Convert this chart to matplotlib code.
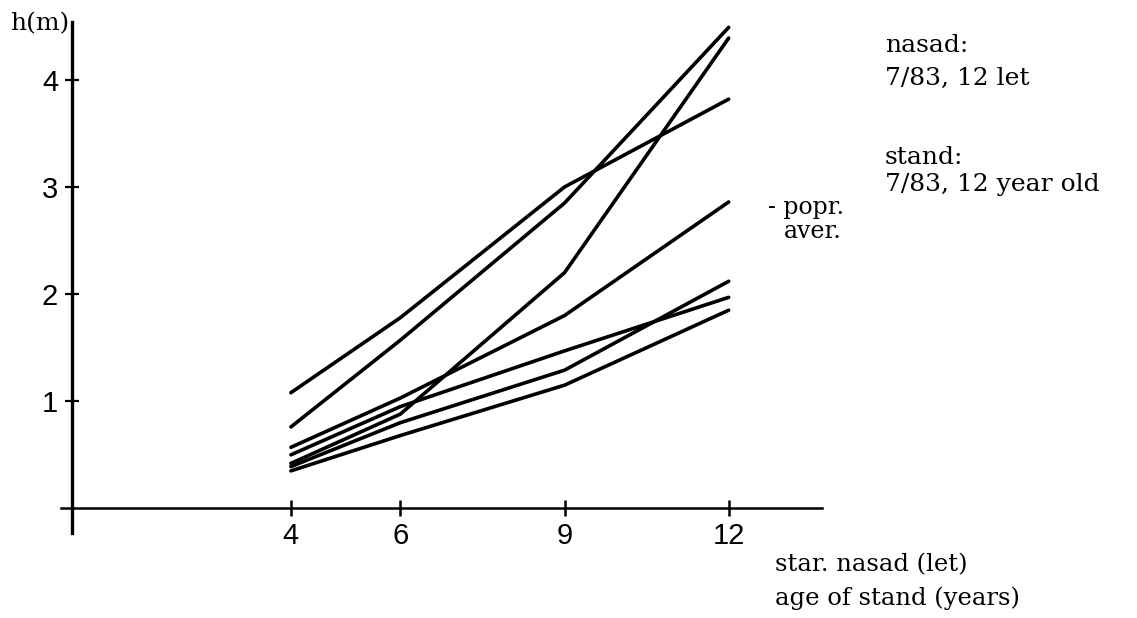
import matplotlib
matplotlib.use("Agg")
import matplotlib.pyplot as plt


# stand age (years) at each measurement
ages = [4, 6, 9, 12]

# tree heights h (m) for the individual trees
heights_a = [1.08, 1.78, 3.00, 3.82]
heights_b = [0.76, 1.57, 2.85, 4.49]
heights_c = [0.42, 0.88, 2.20, 4.39]
heights_avg = [0.57, 1.03, 1.80, 2.86]
heights_e = [0.50, 0.95, 1.47, 1.97]
heights_f = [0.39, 0.80, 1.29, 2.12]
heights_g = [0.35, 0.68, 1.15, 1.85]

x_ticks = [4, 6, 9, 12]
y_ticks = [1, 2, 3, 4]

TICK_FONT = "Liberation Sans"
TEXT_FONT = "DejaVu Serif"


def main():
    fig = plt.figure(figsize=(11.37, 6.18), dpi=100)
    ax = fig.add_axes([0.0537, 0.1375, 0.669, 0.8269])

    all_series = [heights_a, heights_b, heights_c, heights_avg,
                  heights_e, heights_f, heights_g]
    for h in all_series:
        ax.plot(ages, h, color="black", linewidth=2.6,
                solid_capstyle="round", solid_joinstyle="round")

    ax.set_xlim(-0.2, 13.7)
    ax.set_ylim(-0.23, 4.54)

    ax.spines["top"].set_visible(False)
    ax.spines["right"].set_visible(False)
    ax.spines["left"].set_position(("data", 0))
    ax.spines["bottom"].set_position(("data", 0))
    ax.spines["left"].set_linewidth(2.4)
    ax.spines["bottom"].set_linewidth(1.8)

    ax.set_xticks(x_ticks)
    ax.set_yticks(y_ticks)
    ax.set_xticklabels([str(v) for v in x_ticks], family=TICK_FONT, fontsize=21)
    ax.set_yticklabels([str(v) for v in y_ticks], family=TICK_FONT, fontsize=21)
    ax.tick_params(axis="x", direction="inout", length=12, width=1.8, pad=4)
    ax.tick_params(axis="y", direction="inout", length=10, width=1.6, pad=5)

    # axis captions
    fig.text(10 / 1137, 1 - 24 / 618, "h(m)", family=TEXT_FONT,
             fontsize=18, va="center", ha="left")
    fig.text(775 / 1137, 1 - 565 / 618, "star. nasad (let)", family=TEXT_FONT,
             fontsize=17.5, va="center", ha="left")
    fig.text(775 / 1137, 1 - 598 / 618, "age of stand (years)", family=TEXT_FONT,
             fontsize=17.5, va="center", ha="left")

    # label for the average line
    fig.text(768 / 1137, 1 - 207 / 618, "- popr.", family=TEXT_FONT,
             fontsize=17, va="center", ha="left")
    fig.text(784 / 1137, 1 - 232 / 618, "aver.", family=TEXT_FONT,
             fontsize=17, va="center", ha="left")

    # stand info
    info = [("nasad:", 45), ("7/83, 12 let", 78),
            ("stand:", 157), ("7/83, 12 year old", 185)]
    for txt, y in info:
        fig.text(885 / 1137, 1 - y / 618, txt, family=TEXT_FONT,
                 fontsize=18, va="center", ha="left")

    fig.savefig("out.png", dpi=100, facecolor="white")
    plt.close(fig)


if __name__ == "__main__":
    main()
